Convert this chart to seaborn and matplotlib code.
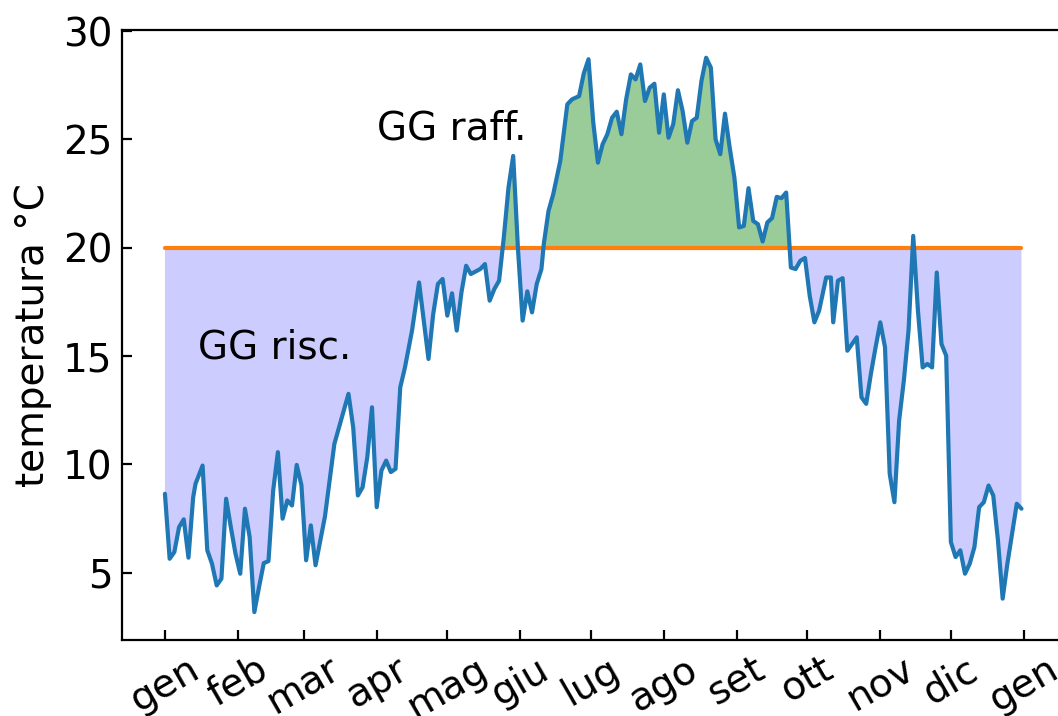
import numpy as np
import pandas as pd
import matplotlib
matplotlib.use("Agg")
import matplotlib.pyplot as plt
import seaborn as sns

# Day of year and mean daily temperature (°C)
days = [0, 2, 4, 6, 8, 10, 12, 13, 16, 18, 20, 22, 24, 26, 28, 30, 32, 34, 36, 38,
        40, 42, 44, 46, 48, 50, 52, 54, 56, 58, 60, 62, 64, 68, 72, 76, 78, 80, 82, 84,
        86, 88, 90, 92, 94, 96, 98, 100, 102, 105, 108, 110, 112, 114, 116, 118, 120, 122, 124, 126,
        128, 130, 134, 136, 138, 140, 142, 144, 146, 148, 150, 152, 154, 156, 158, 160, 161, 163, 165, 168,
        171, 173, 176, 178, 180, 182, 184, 186, 188, 190, 192, 194, 196, 198, 200, 202, 204, 206, 208, 210,
        212, 214, 216, 218, 220, 222, 224, 226, 228, 230, 232, 234, 236, 238, 240, 242, 244, 246, 248, 250,
        252, 254, 256, 258, 260, 262, 264, 266, 268, 270, 272, 274, 276, 278, 281, 283, 284, 286, 288, 290,
        292, 294, 296, 298, 300, 302, 304, 306, 308, 310, 312, 314, 316, 318, 320, 322, 324, 326, 328, 330,
        332, 334, 336, 338, 340, 342, 344, 346, 348, 350, 352, 354, 356, 358, 360, 362, 364]
temps = [8.65, 5.65, 5.96, 7.11, 7.47, 5.70, 8.49, 9.11, 9.95, 6.04, 5.42, 4.42, 4.73, 8.42, 7.11, 5.88, 4.96, 7.96, 6.65, 3.19,
         4.35, 5.45, 5.54, 8.80, 10.57, 7.50, 8.34, 8.11, 9.98, 9.05, 5.58, 7.19, 5.35, 7.60, 10.95, 12.49, 13.26, 11.72, 8.57, 8.95,
         10.34, 12.64, 8.03, 9.72, 10.18, 9.65, 9.80, 13.56, 14.48, 16.18, 18.40, 16.64, 14.87, 16.94, 18.33, 18.56, 16.87, 17.90, 16.18, 17.94,
         19.17, 18.79, 19.02, 19.25, 17.56, 18.10, 18.48, 20.47, 22.78, 24.24, 20.00, 16.64, 17.99, 17.02, 18.33, 19.02, 20.17, 21.70, 22.47, 24.00,
         26.62, 26.85, 27.00, 28.05, 28.70, 25.80, 23.93, 24.78, 25.24, 26.00, 26.28, 25.24, 26.85, 28.00, 27.77, 28.46, 26.77, 27.39, 27.57, 25.31,
         27.08, 25.08, 25.70, 27.27, 26.31, 24.85, 25.85, 26.00, 27.70, 28.77, 28.31, 25.01, 24.32, 26.19, 24.62, 23.24, 20.94, 21.01, 22.75, 21.24,
         21.09, 20.29, 21.17, 21.37, 22.35, 22.29, 22.55, 19.09, 19.02, 19.40, 19.53, 17.79, 16.56, 17.10, 18.63, 18.63, 16.56, 18.48, 18.60, 15.25,
         15.56, 15.87, 13.10, 12.80, 14.18, 15.41, 16.56, 15.41, 9.57, 8.26, 12.03, 13.87, 16.18, 20.55, 17.10, 14.48, 14.64, 14.48, 18.86, 15.56,
         15.02, 6.42, 5.73, 6.04, 4.96, 5.42, 6.19, 8.03, 8.26, 9.03, 8.57, 6.50, 3.81, 5.42, 6.80, 8.19, 7.96]

# Base temperature for degree days
t_base = 20

# Month ticks
month_days = [0, 31, 59, 90, 120, 151, 181, 212, 243, 273, 304, 334, 365]
month_labels = ["gen", "feb", "mar", "apr", "mag", "giu", "lug", "ago", "set",
                "ott", "nov", "dic", "gen"]

sns.set_theme(style="ticks", color_codes=False, rc={
    "xtick.direction": "in",
    "ytick.direction": "in",
    "xtick.major.size": 3.5,
    "ytick.major.size": 3.5,
    "xtick.major.width": 0.8,
    "ytick.major.width": 0.8,
    "axes.linewidth": 0.8,
    "axes.edgecolor": "black",
    "text.color": "black",
    "axes.labelcolor": "black",
    "xtick.color": "black",
    "ytick.color": "black",
    "font.size": 14,
    "axes.labelsize": 14,
    "xtick.labelsize": 14,
    "ytick.labelsize": 14,
})
plt.rcParams["font.family"] = ["DejaVu Sans"]

df = pd.DataFrame({"giorno": days, "temperatura": temps})
x = np.array(days, dtype=float)
y = np.array(temps, dtype=float)

fig = plt.figure(figsize=(5.29, 3.58), dpi=200)
ax = fig.add_axes([0.1153, 0.1061, 0.893, 0.852])

# Heating degree days (below base) and cooling degree days (above base)
ax.fill_between(x, y, t_base, where=y <= t_base, interpolate=True,
                color="#0000ff", alpha=0.2, linewidth=0)
ax.fill_between(x, y, t_base, where=y >= t_base, interpolate=True,
                color="#008000", alpha=0.4, linewidth=0)

ax.plot([x[0], x[-1]], [t_base, t_base], color="#ff7f0e", lw=1.5)
sns.lineplot(data=df, x="giorno", y="temperatura", ax=ax, color="#1f77b4", lw=1.5)

ax.text(46.7, 15.4, "GG risc.", ha="center", va="center", fontsize=14)
ax.text(121.8, 25.5, "GG raff.", ha="center", va="center", fontsize=14)

ax.set_xlim(-18.25, 383.25)
ax.set_ylim(1.9, 30.05)
ax.set_yticks([5, 10, 15, 20, 25, 30])
ax.set_xticks(month_days)
ax.set_xticklabels(month_labels, rotation=30)
ax.set_xlabel("")
ax.set_ylabel("temperatura °C")
for s in ax.spines.values():
    s.set_visible(True)

fig.savefig("out.png", dpi=200)
